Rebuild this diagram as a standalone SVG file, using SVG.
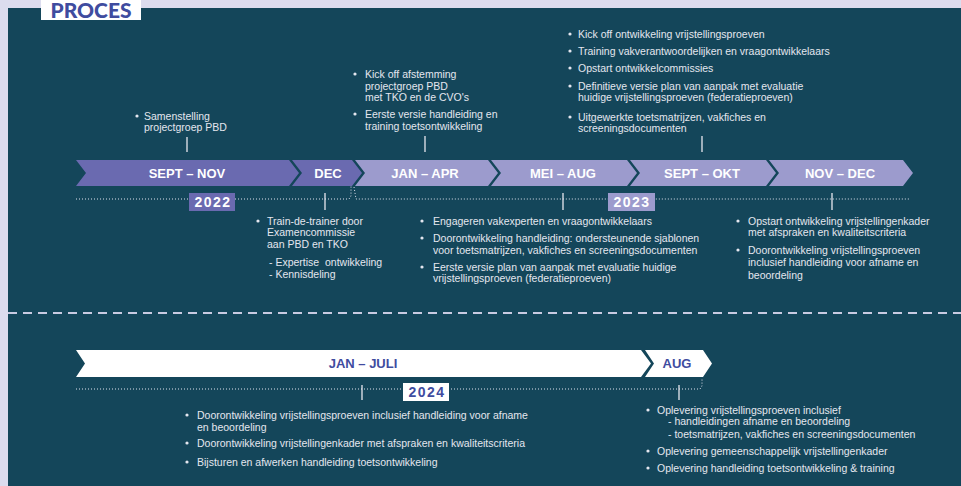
<svg xmlns="http://www.w3.org/2000/svg" width="961" height="486" viewBox="0 0 961 486">
<style>
.t{font-family:"Liberation Sans",Arial,sans-serif;font-size:10.5px;fill:#e4e6ef}
.c{font-family:"Liberation Sans",Arial,sans-serif;font-size:13px;font-weight:bold;fill:#ffffff;text-anchor:middle}
.cb{font-family:"Liberation Sans",Arial,sans-serif;font-size:13px;font-weight:bold;fill:#3f4c9f;text-anchor:middle}
.y{font-family:"Liberation Sans",Arial,sans-serif;font-size:14px;font-weight:bold;letter-spacing:1.5px;text-anchor:middle}
.dk{fill:#6a6ab0}
.lt{fill:#9c9bcd}
.dot{fill:none;stroke:#dfe1ee;stroke-width:1;stroke-dasharray:1 2}
.tick{stroke:#e8e8f0;stroke-width:1.3}
.b{fill:#e4e6ef}
</style>
<rect x="0" y="0" width="961" height="486" fill="#dcdcee"/>
<rect x="8" y="8" width="953" height="478" fill="#14465a"/>
<g id="title">
<rect x="41" y="0" width="100" height="20" fill="#ffffff"/>
<text x="91" y="18" font-family="Lato,'Liberation Sans',sans-serif" font-size="21" font-weight="900" fill="#3f4c9f" text-anchor="middle">PROCES</text>
</g>
<line x1="8" y1="313" x2="961" y2="313" stroke="#c9cbe2" stroke-width="2" stroke-dasharray="9 6"/>
<g id="connectors">
<polyline class="dot" points="76,199 349,199 351,196 351,186"/>
<polyline class="dot" points="354,187 356,199 910,199"/>
<polyline class="dot" points="76,389 700,389 702,386 702,378"/>
<line class="tick" x1="187" y1="137" x2="187" y2="152"/>
<line class="tick" x1="425" y1="136" x2="425" y2="152"/>
<line class="tick" x1="702" y1="136" x2="702" y2="152"/>
<line class="tick" x1="325" y1="193" x2="325" y2="210"/>
<line class="tick" x1="563" y1="193" x2="563" y2="210"/>
<line class="tick" x1="832" y1="193" x2="832" y2="210"/>
<line class="tick" x1="362" y1="385" x2="362" y2="400"/>
<line class="tick" x1="679" y1="385" x2="679" y2="400"/>
</g>
<g id="sept-nov">
<polygon class="dk" points="76,160 289,160 299,173 289,186 76,186 86,173"/>
<text class="c" x="187" y="178">SEPT – NOV</text>
</g>
<g id="dec">
<polygon class="dk" points="292,160 352,160 362,173 352,186 292,186 302,173"/>
<text class="c" x="328" y="178">DEC</text>
</g>
<g id="jan-apr">
<polygon class="lt" points="355,160 488,160 498,173 488,186 355,186 365,173"/>
<text class="c" x="425" y="178">JAN – APR</text>
</g>
<g id="mei-aug">
<polygon class="lt" points="491,160 627,160 637,173 627,186 491,186 501,173"/>
<text class="c" x="563" y="178">MEI – AUG</text>
</g>
<g id="sept-okt">
<polygon class="lt" points="630,160 766,160 776,173 766,186 630,186 640,173"/>
<text class="c" x="702" y="178">SEPT – OKT</text>
</g>
<g id="nov-dec">
<polygon class="lt" points="769,160 903,160 913,173 903,186 769,186 779,173"/>
<text class="c" x="840" y="178">NOV – DEC</text>
</g>
<g id="y2022">
<rect class="dk" x="189" y="193" width="46" height="18"/>
<text class="y" x="213" y="207" fill="#ffffff">2022</text>
</g>
<g id="y2023">
<rect class="lt" x="608" y="193" width="47" height="18"/>
<text class="y" x="632" y="207" fill="#ffffff">2023</text>
</g>
<g id="jan-juli">
<polygon fill="#ffffff" points="76,350 641,350 651,363.5 641,377 76,377 85,363.5"/>
<text class="cb" x="363" y="368">JAN – JULI</text>
</g>
<g id="aug">
<polygon fill="#ffffff" points="645,350 703,350 712,363.5 703,377 645,377 654,363.5"/>
<text class="cb" x="677" y="368">AUG</text>
</g>
<g id="y2024">
<rect x="403" y="383" width="46" height="18" fill="#ffffff"/>
<text class="y" x="427" y="397" fill="#3f4c9f">2024</text>
</g>
<g id="note-sept-nov">
<circle class="b" cx="137" cy="116" r="1.6"/>
<text class="t" x="144" y="120">Samenstelling</text>
<text class="t" x="144" y="131">projectgroep PBD</text>
</g>
<g id="note-jan-apr">
<circle class="b" cx="355" cy="74" r="1.6"/>
<text class="t" x="365" y="78">Kick off afstemming</text>
<text class="t" x="365" y="89.5">projectgroep PBD</text>
<text class="t" x="365" y="101">met TKO en de CVO's</text>
<circle class="b" cx="355" cy="114" r="1.6"/>
<text class="t" x="365" y="118">Eerste versie handleiding en</text>
<text class="t" x="365" y="130">training toetsontwikkeling</text>
</g>
<g id="note-sept-okt">
<circle class="b" cx="570" cy="34" r="1.6"/>
<text class="t" x="578" y="38">Kick off ontwikkeling vrijstellingsproeven</text>
<circle class="b" cx="570" cy="51" r="1.6"/>
<text class="t" x="578" y="55">Training vakverantwoordelijken en vraagontwikkelaars</text>
<circle class="b" cx="570" cy="68" r="1.6"/>
<text class="t" x="578" y="72">Opstart ontwikkelcommissies</text>
<circle class="b" cx="570" cy="86" r="1.6"/>
<text class="t" x="578" y="90">Definitieve versie plan van aanpak met evaluatie</text>
<text class="t" x="578" y="101">huidige vrijstellingsproeven (federatieproeven)</text>
<circle class="b" cx="570" cy="117" r="1.6"/>
<text class="t" x="578" y="121">Uitgewerkte toetsmatrijzen, vakfiches en</text>
<text class="t" x="578" y="132">screeningsdocumenten</text>
</g>
<g id="note-dec">
<circle class="b" cx="258" cy="221" r="1.6"/>
<text class="t" x="267" y="225">Train-de-trainer door</text>
<text class="t" x="267" y="236">Examencommissie</text>
<text class="t" x="267" y="248">aan PBD en TKO</text>
<text class="t" x="269" y="266" xml:space="preserve">- Expertise  ontwikkeling</text>
<text class="t" x="269" y="278">- Kennisdeling</text>
</g>
<g id="note-mei-aug">
<circle class="b" cx="422" cy="221" r="1.6"/>
<text class="t" x="433" y="225">Engageren vakexperten en vraagontwikkelaars</text>
<circle class="b" cx="422" cy="238" r="1.6"/>
<text class="t" x="433" y="242">Doorontwikkeling handleiding: ondersteunende sjablonen</text>
<text class="t" x="433" y="254">voor toetsmatrijzen, vakfiches en screeningsdocumenten</text>
<circle class="b" cx="422" cy="267" r="1.6"/>
<text class="t" x="433" y="271">Eerste versie plan van aanpak met evaluatie huidige</text>
<text class="t" x="433" y="282">vrijstellingsproeven (federatieproeven)</text>
</g>
<g id="note-nov-dec">
<circle class="b" cx="738" cy="221" r="1.6"/>
<text class="t" x="748" y="225">Opstart ontwikkeling vrijstellingenkader</text>
<text class="t" x="748" y="236">met afspraken en kwaliteitscriteria</text>
<circle class="b" cx="738" cy="250" r="1.6"/>
<text class="t" x="748" y="254">Doorontwikkeling vrijstellingsproeven</text>
<text class="t" x="748" y="266">inclusief handleiding voor afname en</text>
<text class="t" x="748" y="279">beoordeling</text>
</g>
<g id="note-jan-juli">
<circle class="b" cx="187" cy="415" r="1.6"/>
<text class="t" x="197" y="419">Doorontwikkeling vrijstellingsproeven inclusief handleiding voor afname</text>
<text class="t" x="197" y="431">en beoordeling</text>
<circle class="b" cx="187" cy="443" r="1.6"/>
<text class="t" x="197" y="447">Doorontwikkeling vrijstellingenkader met afspraken en kwaliteitscriteria</text>
<circle class="b" cx="187" cy="462" r="1.6"/>
<text class="t" x="197" y="466">Bijsturen en afwerken handleiding toetsontwikkeling</text>
</g>
<g id="note-aug">
<circle class="b" cx="648" cy="410" r="1.6"/>
<text class="t" x="657" y="414">Oplevering vrijstellingsproeven inclusief</text>
<text class="t" x="668" y="425">- handleidingen afname en beoordeling</text>
<text class="t" x="668" y="438">- toetsmatrijzen, vakfiches en screeningsdocumenten</text>
<circle class="b" cx="648" cy="451" r="1.6"/>
<text class="t" x="657" y="455">Oplevering gemeenschappelijk vrijstellingenkader</text>
<circle class="b" cx="648" cy="468" r="1.6"/>
<text class="t" x="657" y="472">Oplevering handleiding toetsontwikkeling &amp; training</text>
</g>
</svg>
